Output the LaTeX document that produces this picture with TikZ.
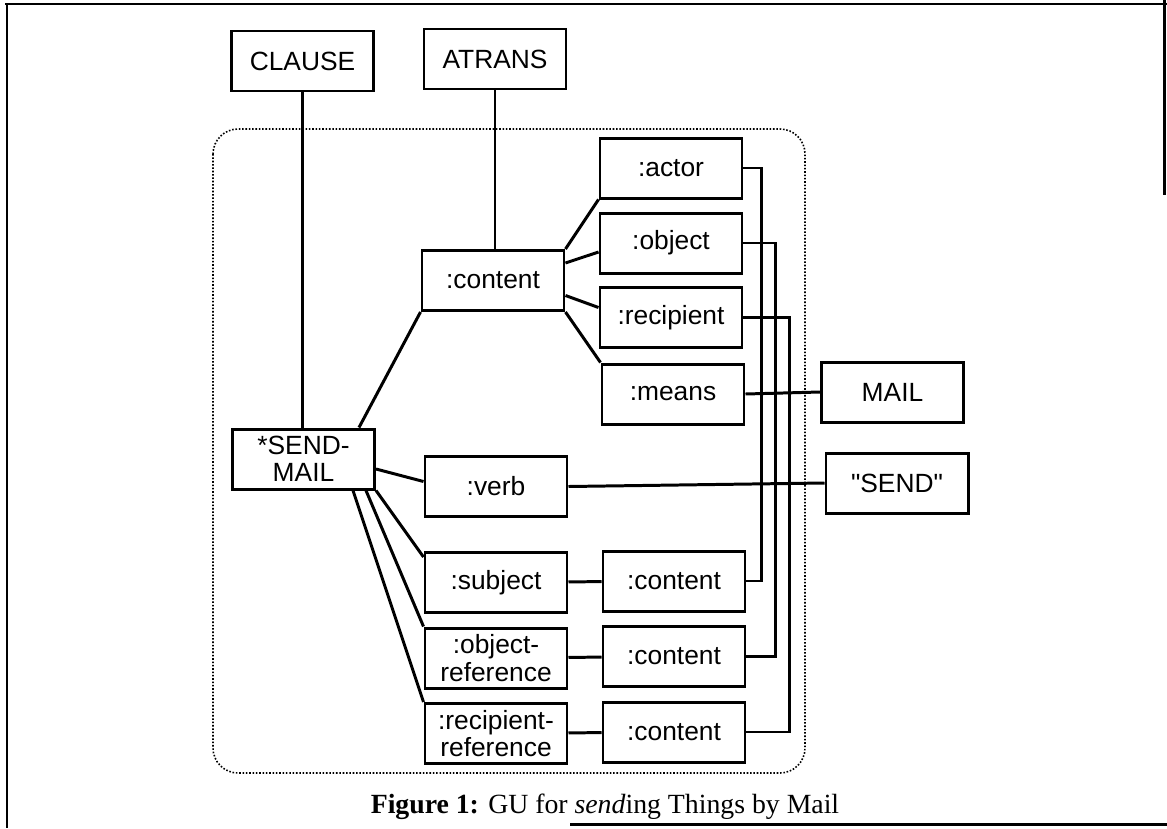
\documentclass[tikz,border=0pt]{standalone}
\usepackage{fontspec}
\setmainfont{Liberation Serif}
\newfontfamily\slotfont{Liberation Sans}

\begin{document}
\begin{tikzpicture}[slotbox/.style={draw,line width=1.7pt,minimum width=2.84cm,minimum height=1.2cm,inner sep=0pt,align=center,font=\slotfont\fontsize{15}{15.5}\selectfont},
                    link/.style={line width=1.7pt},
                    rail/.style={line width=1.4pt}]
                    \useasboundingbox (0,0) rectangle (23.34,-16.56);
                    \draw[line width=1.6pt] (0.1,-0.08)--(23.34,-0.08);
                    \draw[line width=1.6pt] (0.14,-0.08)--(0.14,-16.56);
                    \draw[line width=1.3pt] (23.29,0)--(23.29,-3.9);
                    \draw[line width=1.6pt] (11.4,-16.49)--(23.34,-16.49);

                    \draw[densely dotted,line width=0.9pt,rounded corners=0.5cm] (4.26,-2.58) rectangle (16.10,-15.46);

                    \node[slotbox] (clause) at (6.05,-1.22) {CLAUSE};
                    \node[slotbox] (atrans) at (9.90,-1.18) {ATRANS};
                    \node[slotbox] (content) at (9.86,-5.61) {:content};
                    \node[slotbox] (actor) at (13.42,-3.36) {:actor};
                    \node[slotbox] (object) at (13.42,-4.86) {:object};
                    \node[slotbox] (recipient) at (13.42,-6.35) {:recipient};
                    \node[slotbox] (means) at (13.46,-7.88) {:means};
                    \node[slotbox] (mail) at (17.85,-7.84) {MAIL};
                    \node[slotbox] (sendmail) at (6.07,-9.18) {*SEND-\\MAIL};
                    \node[slotbox] (verb) at (9.92,-9.73) {:verb};
                    \node[slotbox] (send) at (17.94,-9.66) {"SEND"};
                    \node[slotbox] (subject) at (9.92,-11.65) {:subject};
                    \node[slotbox] (subjcontent) at (13.48,-11.62) {:content};
                    \node[slotbox] (objref) at (9.92,-13.16) {:object-\\reference};
                    \node[slotbox] (objcontent) at (13.48,-13.13) {:content};
                    \node[slotbox] (recref) at (9.92,-14.67) {:recipient-\\reference};
                    \node[slotbox] (reccontent) at (13.48,-14.64) {:content};

                    \draw[link] (clause.south)--(clause.south |- sendmail.north);
                    \draw[link] (atrans.south)--(atrans.south |- content.north);
                    \draw[link] ([xshift=-0.34cm]sendmail.north east)--(content.south west);
                    \draw[link] (content.north east)--(actor.south west);
                    \draw[link] ([yshift=0.35cm]content.east)--([yshift=-0.18cm]object.west);
                    \draw[link] ([yshift=-0.3cm]content.east)--([yshift=0.2cm]recipient.west);
                    \draw[link] (content.south east)--(means.north west);
                    \draw[link] (means.east)--(mail.west);

                    \draw[link] ([yshift=-0.2cm]sendmail.east)--([yshift=0.1cm]verb.west);
                    \draw[link] (verb.east)--(send.west);
                    \draw[link] (sendmail.south east)--([yshift=-0.12cm]subject.north west);
                    \draw[link] ([xshift=-0.2cm]sendmail.south east)--(objref.north west);
                    \draw[link] ([xshift=-0.46cm]sendmail.south east)--(recref.north west);
                    \draw[link] (subject)--(subjcontent);
                    \draw[link] (objref)--(objcontent);
                    \draw[link] (recref)--(reccontent);

                    \draw[rail] (actor.east)--++(0.36,0) |- (subjcontent.east);
                    \draw[rail] (object.east)--++(0.64,0) |- (objcontent.east);
                    \draw[rail] (recipient.east)--++(0.92,0) |- (reccontent.east);

                    \node[anchor=base,font=\fontsize{15.8}{18}\selectfont] (caption) at (12.1,-16.26) {\textbf{Figure 1:} GU for \textit{send}ing Things by Mail};
                \end{tikzpicture}
\end{document}
